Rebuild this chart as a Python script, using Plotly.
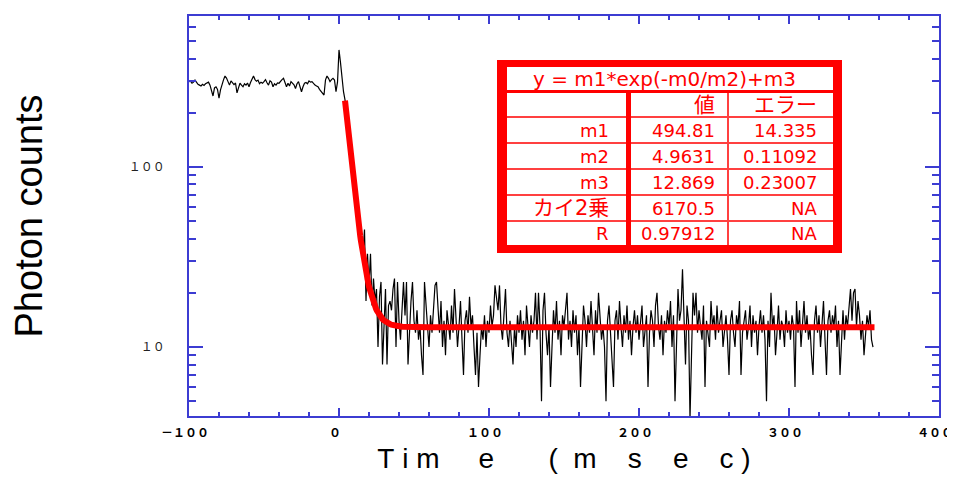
import numpy as np
import plotly.graph_objects as go

# ---------------- data ----------------
T_START = -100  # ms, first sample; one sample per ms

pre_counts = [
    298, 300, 292, 296, 304, 294, 288, 285, 282, 288,
    284, 290, 293, 296, 285, 262, 248, 275, 279, 270,
    241, 268, 292, 305, 320, 312, 298, 285, 301, 292,
    287, 293, 258, 275, 292, 285, 279, 290, 285, 293,
    279, 295, 310, 320, 306, 300, 304, 290, 296, 292,
    298, 306, 294, 285, 301, 296, 279, 290, 285, 293,
    292, 300, 306, 311, 296, 279, 292, 282, 298, 290,
    286, 273, 290, 298, 280, 262, 279, 292, 295, 290,
    301, 296, 298, 290, 285, 282, 279, 270, 264, 256,
    251, 305, 320, 311, 298, 306, 311, 304, 262, 296,
]

decay_counts = [
    447, 380, 310, 262, 236, 196, 168, 139, 118, 101,
    84, 70, 60, 51, 43, 39, 33, 45, 18, 33,
    22, 33, 17, 24, 18, 21, 10, 19, 23, 8,
    14, 21, 8, 17, 18, 16, 21, 24, 10, 23,
]

baseline_counts = [
    14, 11, 16, 23, 15, 23, 8, 13, 18, 23,
    14, 12, 16, 11, 13, 9, 7, 23, 16, 13,
    10, 15, 12, 16, 22, 23, 15, 12, 18, 10,
    14, 9, 16, 13, 11, 17, 12, 21, 15, 10,
    13, 18, 11, 7, 14, 16, 12, 19, 13, 15,
    10, 7, 12, 6, 9, 13, 11, 15, 10, 14,
    12, 17, 13, 15, 22, 18, 16, 22, 13, 11,
    15, 21, 12, 10, 14, 11, 8, 13, 10, 15,
    12, 16, 11, 14, 9, 17, 13, 10, 15, 12,
    14, 20, 11, 20, 13, 5, 16, 20, 12, 9,
    13, 6, 10, 16, 12, 18, 11, 14, 9, 15,
    13, 17, 20, 11, 14, 10, 16, 12, 15, 9,
    13, 6, 11, 17, 14, 10, 15, 12, 18, 13,
    9, 16, 12, 20, 15, 11, 13, 10, 5, 14,
    17, 12, 9, 6, 14, 16, 11, 18, 13, 10,
    15, 12, 17, 11, 14, 9, 13, 16, 12, 15,
    11, 14, 17, 10, 13, 15, 6, 12, 16, 14,
    10, 17, 20, 13, 11, 15, 9, 14, 12, 16,
    13, 18, 10, 15, 5, 12, 21, 14, 16, 27,
    12, 8, 17, 14, 4, 10, 20, 15, 20, 12,
    16, 13, 11, 17, 6, 14, 12, 10, 18, 13,
    15, 11, 17, 12, 14, 16, 10, 13, 15, 11,
    7, 14, 16, 12, 10, 15, 13, 18, 7, 12,
    14, 16, 11, 13, 17, 10, 15, 12, 14, 9,
    13, 16, 12, 15, 11, 5, 14, 10, 20, 13,
    15, 9, 12, 17, 11, 14, 13, 10, 16, 12,
    14, 11, 15, 13, 6, 18, 12, 16, 10, 14,
    18, 12, 15, 11, 13, 9, 7, 14, 17, 12,
    15, 10, 13, 18, 11, 7, 14, 16, 12, 15,
    13, 17, 10, 14, 7, 12, 16, 11, 15, 13,
    17, 21, 14, 20, 21, 13, 18, 15, 11, 14,
    9, 12, 15, 13, 16, 11, 10,
]

counts = pre_counts + decay_counts + baseline_counts
time_ms = T_START + np.arange(len(counts))

# fit table (as printed on the chart)
fit_formula = "y = m1*exp(-m0/m2)+m3"
table_header = ["", "値", "エラー"]
param_names = ["m1", "m2", "m3", "カイ2乗", "R"]
param_values = ["494.81", "4.9631", "12.869", "6170.5", "0.97912"]
param_errors = ["14.335", "0.11092", "0.23007", "NA", "NA"]

# fitted curve drawn over the range shown (t from 4 to 357 ms)
FIT_T0, FIT_T1 = 4, 357
m1, m2, m3 = float(param_values[0]), float(param_values[1]), float(param_values[2])
fit_t = np.linspace(FIT_T0, FIT_T1, 700)
fit_y = m1 * np.exp(-fit_t / m2) + m3

x_tickvals = [-100, 0, 100, 200, 300, 400]
x_ticktext = ["－１００", "０", "１００", "２００", "３００", "４００"]
y_tickvals = [10, 100]
y_ticktext = ["１０", "１００"]
y_minor = [5, 6, 7, 8, 9, 20, 30, 40, 50, 60, 70, 80, 90, 200, 300, 400, 500, 600]

# ---------------- layout helpers ----------------
PAGE_OFF = 8                 # default body margin of the html page
W, H = 955 - PAGE_OFF, 482 - PAGE_OFF
ML, MR, MT, MB = 189 - PAGE_OFF, 16, 16 - PAGE_OFF, 66
PW, PH = W - ML - MR, H - MT - MB


def px(x):  # screen pixel -> paper
    return (x - PAGE_OFF - ML) / PW


def py(y):
    return (H - MB - (y - PAGE_OFF)) / PH


BLUE = "#3c3cd2"
RED = "#ff0000"

fig = go.Figure()
fig.add_trace(go.Scatter(x=time_ms, y=counts, mode="lines",
                         line=dict(color="black", width=1.2), hoverinfo="skip"))
fig.add_trace(go.Scatter(x=fit_t, y=fit_y, mode="lines",
                         line=dict(color=RED, width=6), hoverinfo="skip"))

# ---------------- table ----------------
shapes = []


def rect(x0, y0, x1, y1, color):
    shapes.append(dict(type="rect", xref="paper", yref="paper",
                       x0=px(x0), x1=px(x1), y0=py(y0), y1=py(y1),
                       fillcolor=color, line=dict(width=0), layer="above"))


def hline(x0, x1, y, width, color):
    shapes.append(dict(type="line", xref="paper", yref="paper",
                       x0=px(x0), x1=px(x1), y0=py(y), y1=py(y),
                       line=dict(color=color, width=width), layer="above"))


def vline(x, y0, y1, width, color):
    shapes.append(dict(type="line", xref="paper", yref="paper",
                       x0=px(x), x1=px(x), y0=py(y0), y1=py(y1),
                       line=dict(color=color, width=width), layer="above"))


rect(497, 60, 842, 253, RED)
rect(507, 67, 833, 90, "white")
rect(507, 93, 833, 245, "white")
row_tops = [93, 117, 143, 169, 195, 221, 245]
for yb in row_tops[1:-1]:
    hline(507, 833, yb, 2, "#ff4040")
vline(628.5, 93, 245, 5, RED)
vline(728, 93, 245, 2, "#ff4040")


def has_cjk(s):
    return any(ord(c) > 0x2E80 for c in s)


ann = []
FAM = "DejaVu Sans, Noto Sans CJK JP"
ann.append(dict(text=fit_formula, x=px(664), y=py(78.5), xref="paper", yref="paper",
                showarrow=False, xanchor="center", yanchor="middle",
                font=dict(family=FAM, size=20, color=RED)))
col_right = [611, 717, 819]
row_mid = [(row_tops[i] + row_tops[i + 1]) / 2 for i in range(len(row_tops) - 1)]


def cell(txt, col, row):
    size = 21 if has_cjk(txt) else 18
    ann.append(dict(text=txt, x=px(col_right[col]), y=py(row_mid[row]), xref="paper",
                    yref="paper", showarrow=False, xanchor="right", yanchor="middle",
                    font=dict(family=FAM, size=size, color=RED)))


for j, txt in enumerate(table_header):
    if txt:
        cell(txt, j, 0)
for i in range(len(param_names)):
    for j, txt in enumerate([param_names[i], param_values[i], param_errors[i]]):
        cell(txt, j, i + 1)

NB = "\u00a0"
x_title = ("T" + NB + "i" + NB + "m" + NB * 5 + "e" + NB * 7 + "(" + NB * 2 + "m" + NB * 4
           + "s" + NB * 4 + "e" + NB * 4 + "c" + NB + ")")

fig.update_layout(
    width=W, height=H,
    margin=dict(l=ML, r=MR, t=MT, b=MB, pad=0),
    paper_bgcolor="white", plot_bgcolor="white",
    showlegend=False,
    shapes=shapes, annotations=ann,
    xaxis=dict(range=[-100, 400], showline=True, linecolor=BLUE, linewidth=1.5,
               mirror="ticks", ticks="inside", ticklen=8, tickwidth=1.5, tickcolor=BLUE,
               tickmode="array", tickvals=x_tickvals, ticktext=x_ticktext,
               tickfont=dict(family="Noto Sans CJK JP", size=12, color="black", weight="bold"),
               ticklabeloverflow="allow", ticklabelshift=-4, automargin=False,
               minor=dict(ticks="inside", dtick=20, tick0=0, ticklen=4, tickwidth=1.5,
                          tickcolor=BLUE),
               showgrid=False, zeroline=False, ticklabelstandoff=5,
               title=dict(text=x_title, standoff=9,
                          font=dict(family="Liberation Sans", size=28, color="black"))),
    yaxis=dict(type="log", range=[np.log10(4.14), np.log10(690)], showline=True,
               linecolor=BLUE, linewidth=1.5, mirror="ticks", ticks="inside", ticklen=14,
               tickwidth=1.5, tickcolor=BLUE, tickmode="array", tickvals=y_tickvals,
               ticktext=y_ticktext, automargin=False,
               tickfont=dict(family="Noto Sans CJK JP", size=12, color="#222222"),
               minor=dict(ticks="inside", tickmode="array", tickvals=y_minor, ticklen=7,
                          tickwidth=1.5, tickcolor=BLUE),
               showgrid=False, zeroline=False, ticklabelstandoff=20,
               title=dict(text="Photon counts", standoff=78,
                          font=dict(family="Liberation Sans", size=38, color="black"))),
)

fig.write_html("out.html")
